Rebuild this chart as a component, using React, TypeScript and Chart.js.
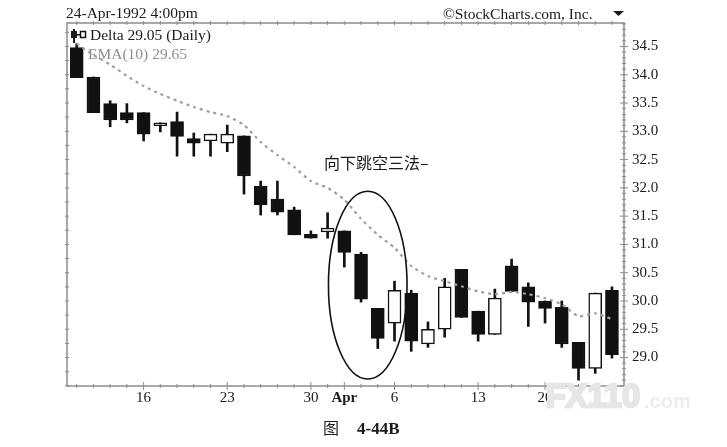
import React, { useEffect, useRef } from 'react';
import { Chart, registerables } from 'chart.js';

Chart.register(...registerables);

const opens = [34.48, 33.96, 33.49, 33.33, 33.33, 33.10, 33.17, 32.87, 32.83, 32.79, 32.92, 32.03, 31.80, 31.61, 31.18, 31.22, 31.24, 30.83, 29.87, 29.61, 30.14, 29.24, 29.50, 30.56, 29.82, 29.41, 30.62, 30.25, 30.00, 29.89, 29.27, 28.81, 30.19];
const closes = [33.95, 33.33, 33.20, 33.20, 32.95, 33.15, 32.91, 32.79, 32.95, 32.95, 32.21, 31.70, 31.57, 31.17, 31.11, 31.29, 30.86, 30.03, 29.34, 30.19, 29.29, 29.50, 30.25, 29.71, 29.41, 30.05, 30.17, 29.98, 29.87, 29.24, 28.81, 30.14, 29.05];
const highs = [34.55, 33.96, 33.54, 33.49, 33.33, 33.15, 33.34, 32.97, 32.95, 33.11, 32.92, 32.12, 32.12, 31.66, 31.24, 31.56, 31.24, 30.86, 29.87, 30.35, 30.19, 29.63, 30.40, 30.56, 29.82, 30.21, 30.74, 30.32, 30.00, 30.00, 29.27, 30.14, 30.25];
const lows = [33.95, 33.33, 33.08, 33.15, 32.83, 32.99, 32.56, 32.56, 32.56, 32.64, 31.89, 31.52, 31.52, 31.17, 31.11, 31.11, 30.60, 29.98, 29.16, 29.29, 29.11, 29.18, 29.36, 29.71, 29.29, 29.41, 30.17, 29.55, 29.61, 29.18, 28.60, 28.72, 28.99];
const ema = [34.55, 34.35, 34.18, 33.98, 33.80, 33.66, 33.54, 33.43, 33.34, 33.27, 33.11, 32.81, 32.58, 32.37, 32.12, 32.00, 31.79, 31.45, 31.17, 30.94, 30.62, 30.44, 30.35, 30.26, 30.17, 30.12, 30.16, 30.12, 30.05, 29.94, 29.73, 29.78, 29.68];

const xTickIndex = [4, 9, 14, 16, 19, 24, 28];
const xTickLabels = ['16', '23', '30', 'Apr', '6', '13', '20'];
const yTicks = [29, 29.5, 30, 30.5, 31, 31.5, 32, 32.5, 33, 33.5, 34, 34.5];

const SERIF = '"Liberation Serif", "Times New Roman", serif';
const AXIS_COLOR = '#8c8c8c';

// everything the library has no element for: frame, captions, ellipse, watermark
const decorations = {
  id: 'decorations',
  afterDraw(chart: any) {
    const { ctx, chartArea: a, scales } = chart;
    const x = scales.x;
    const y = scales.y;
    ctx.save();

    // frame and tick marks
    ctx.strokeStyle = AXIS_COLOR;
    ctx.lineWidth = 1.5;
    ctx.strokeRect(a.left, a.top, a.right - a.left, a.bottom - a.top);
    ctx.lineWidth = 1;
    const tickY = (v: number, side: number, len: number) => {
      const py = y.getPixelForValue(v);
      ctx.beginPath();
      ctx.moveTo(side - len, py);
      ctx.lineTo(side + len, py);
      ctx.stroke();
    };
    for (let v = 285; v <= 349; v++) tickY(v / 10, a.right, v % 5 === 0 ? 4 : 2);
    for (let v = 114; v <= 139; v++) tickY(v / 4, a.left, 2);
    opens.forEach((_, i) => {
      const px = x.getPixelForValue(i);
      const major = xTickIndex.includes(i);
      ctx.beginPath();
      ctx.moveTo(px, a.bottom - (major ? 4 : 2));
      ctx.lineTo(px, a.bottom + (major ? 4 : 2));
      ctx.moveTo(px, a.top - 2);
      ctx.lineTo(px, a.top + 2);
      ctx.stroke();
    });

    // ellipse round the three-method gap
    const cx = x.getPixelForValue(17.4);
    const rx = x.getPixelForValue(19.75) - cx;
    const top = y.getPixelForValue(31.94);
    const bottom = y.getPixelForValue(28.62);
    ctx.strokeStyle = '#111';
    ctx.lineWidth = 1.6;
    ctx.beginPath();
    ctx.ellipse(cx, (top + bottom) / 2, rx, (bottom - top) / 2, 0, 0, Math.PI * 2);
    ctx.stroke();

    // captions
    ctx.textBaseline = 'alphabetic';
    ctx.fillStyle = '#1a1a1a';
    ctx.font = `15.5px ${SERIF}`;
    ctx.fillText('24-Apr-1992 4:00pm', 66, 18);
    ctx.fillText('©StockCharts.com, Inc.', 443, 19);
    ctx.fillText('Delta 29.05 (Daily)', 90, 40);
    ctx.fillStyle = '#8f8f8f';
    ctx.fillText('EMA(10) 29.65', 88, 59);
    ctx.fillStyle = '#1a1a1a';
    ctx.font = '16px "Noto Sans CJK SC"';
    ctx.fillText('向下跳空三法–', 324, 169);
    ctx.fillText('图', 323, 434);
    ctx.font = `bold 17px ${SERIF}`;
    ctx.fillText('4-44B', 357, 434);

    // little dropdown arrow
    ctx.beginPath();
    ctx.moveTo(613, 11);
    ctx.lineTo(624, 11);
    ctx.lineTo(618.5, 16);
    ctx.closePath();
    ctx.fill();

    // legend glyph
    ctx.fillRect(71, 31, 6, 7);
    ctx.fillRect(73, 29, 2, 14);
    ctx.strokeStyle = '#111';
    ctx.lineWidth = 1.5;
    ctx.strokeRect(80.5, 31.5, 5, 6);
    ctx.fillRect(77, 34, 3, 1.5);

    // watermark sits on top of the axis
    ctx.fillStyle = '#e6e6e6';
    ctx.strokeStyle = '#e6e6e6';
    ctx.lineWidth = 2.5;
    ctx.font = 'bold 34px "Liberation Sans"';
    ctx.fillText('FX110', 546, 407, 94);
    ctx.strokeText('FX110', 546, 407, 94);
    ctx.fillStyle = '#ededed';
    ctx.font = 'bold 20px "Liberation Sans"';
    ctx.fillText('.com', 644, 408);
    ctx.restore();
  },
};

export default function App() {
  const canvasRef = useRef<HTMLCanvasElement>(null);

  useEffect(() => {
    if (!canvasRef.current) return;
    const idx = opens.map((_, i) => i);
    const hollow = (i: number) => closes[i] > opens[i];

    const chart = new Chart(canvasRef.current, {
      type: 'bar',
      data: {
        datasets: [
          {
            type: 'line',
            label: 'EMA(10)',
            data: idx.map((i) => ({ x: i, y: ema[i] })),
            borderColor: '#a0a0a0',
            borderWidth: 2.2,
            borderDash: [3, 4],
            pointRadius: 0,
            tension: 0.2,
            order: 0,
          },
          {
            label: 'Delta',
            data: idx.map((i) => ({ x: i, y: [opens[i], closes[i]] })),
            backgroundColor: idx.map((i) => (hollow(i) ? '#ffffff' : '#111111')),
            borderColor: '#111111',
            borderWidth: 1.5,
            borderSkipped: false,
            barThickness: 13,
            grouped: false,
            order: 1,
          },
          {
            label: 'High-Low',
            data: idx.map((i) => ({ x: i, y: [lows[i], highs[i]] })),
            backgroundColor: '#111111',
            barThickness: 2,
            grouped: false,
            order: 2,
          },
        ] as any,
      },
      options: {
        responsive: false,
        animation: false,
        layout: { padding: { top: 23, left: 67 } },
        plugins: { legend: { display: false }, tooltip: { enabled: false } },
        scales: {
          x: {
            type: 'linear',
            offset: false,
            min: -0.58,
            max: 32.72,
            grid: { display: false, drawTicks: false },
            border: { display: false },
            afterBuildTicks: (s: any) => {
              s.ticks = xTickIndex.map((value) => ({ value }));
            },
            afterFit: (s: any) => {
              s.height = 61;
            },
            ticks: {
              autoSkip: false,
              maxRotation: 0,
              padding: 3,
              color: '#1a1a1a',
              font: (c: any) => ({
                family: SERIF,
                size: 15,
                weight: c.tick && c.tick.value === 16 ? 'bold' : 'normal',
              }),
              callback: (v: any) => xTickLabels[xTickIndex.indexOf(v)],
            },
          },
          y: {
            type: 'linear',
            position: 'right',
            min: 28.497,
            max: 34.915,
            grid: { display: false, drawTicks: false },
            border: { display: false },
            afterBuildTicks: (s: any) => {
              s.ticks = yTicks.map((value) => ({ value }));
            },
            afterFit: (s: any) => {
              s.width = 103;
            },
            ticks: {
              autoSkip: false,
              padding: 8,
              color: '#1a1a1a',
              font: { family: SERIF, size: 15 },
              callback: (v: any) => Number(v).toFixed(1),
            },
          },
        },
      } as any,
      plugins: [decorations],
    });
    return () => chart.destroy();
  }, []);

  return (
    <div style={{ position: 'absolute', left: 0, top: 0, width: 727, height: 447, background: '#fff' }}>
      <canvas ref={canvasRef} width={727} height={447} aria-label="Delta daily candlestick chart" />
    </div>
  );
}
